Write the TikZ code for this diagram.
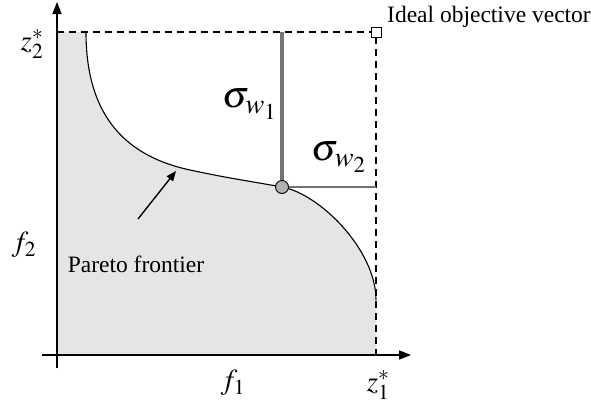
\documentclass[tikz,border=0pt]{standalone}
\usepackage{amsmath}
\usepackage{mathptmx}
\usepackage{fontspec}
\setmainfont{Liberation Serif}
\usetikzlibrary{arrows.meta, positioning}
\tikzset{
    paretoplot/.style={x=1pt, y=-1pt, >={Triangle[length=12pt, width=9pt]}, font=\fontsize{23.5}{27}\selectfont},
    axis/.style={line width=1.4pt},
    guide/.style={dashed, dash pattern=on 7pt off 5pt, line width=1.1pt},
    front/.style={line width=1.1pt},
    region/.style={fill=black!10},
    dev/.style={draw=black!55},
    ideal/.style={draw, fill=white, rectangle, minimum size=10pt, inner sep=0pt, line width=0.9pt},
    sol/.style={draw, fill=black!30, circle, minimum size=13pt, inner sep=0pt, line width=0.9pt},
    mathlbl/.style={font=\fontsize{29}{32}\selectfont, inner sep=1pt},
    siglbl/.style={font=\fontsize{38}{40}\selectfont, inner sep=1pt},
}

\begin{document}
\begin{tikzpicture}[paretoplot]
    \useasboundingbox (0,0) rectangle (591,408);

    % frontier points
    \coordinate (o)   at (57,355);
    \coordinate (top) at (57,32);
    \coordinate (ftop) at (86,32);
    \coordinate (fmid) at (190,170);
    \coordinate (fend) at (376,300);
    \coordinate (xend) at (376,355);

    % dominated region
    \fill[region] (top) -- (ftop) .. controls (86,110) and (120,155) .. (fmid)
        .. controls (230,178.6) and (255,182) .. (282,187)
        .. controls (320,194) and (376,250) .. (fend) -- (xend) -- (o) -- cycle;
    \draw[front] (ftop) .. controls (86,110) and (120,155) .. (fmid)
        .. controls (230,178.6) and (255,182) .. (282,187)
        .. controls (320,194) and (376,250) .. (fend);

    \node[ideal] (z)  at (376,32)  {};
    \coordinate (xax) at (376,355);
    \draw[guide] (top) -- (z);
    \draw[guide] (z) -- (xax);

    % deviations
    \coordinate (up) at (282,32);
    \coordinate (rt) at (376,187);
    \draw[dev, line width=3.2pt] (282,187) -- (up);
    \draw[dev, line width=2pt] (282,187) -- (rt);
    \node[sol] (p) at (282,187) {};

    % axes
    \coordinate (xs) at (42,355);
    \coordinate (xe) at (411,355);
    \coordinate (ys) at (57,368);
    \coordinate (ye) at (57,2);
    \draw[axis, ->] (xs) -- (xe);
    \draw[axis, ->] (ys) -- (ye);

    \node[mathlbl] (z2) at (32,44)  {$z_2^*$};
    \node[mathlbl] (f2) at (24,245) {$f_2$};
    \node[mathlbl] (f1) at (233,383) {$f_1$};
    \node[mathlbl] (z1) at (378,385) {$z_1^*$};
    \node[siglbl, anchor=east] (s1) at (278,104) {$\sigma_{w_1}$};
    \node[siglbl] (s2) at (339,157) {$\sigma_{w_2}$};

    \node[anchor=west, inner sep=0pt] (ivec) at (387,17) {Ideal objective vector};
    \node (pf) at (136,264) {Pareto frontier};
    \coordinate (tip) at (176,171);
    \draw[line width=1.4pt, ->, >={Triangle[length=10pt, width=8pt]}] (138,219) -- (tip);
\end{tikzpicture}
\end{document}
